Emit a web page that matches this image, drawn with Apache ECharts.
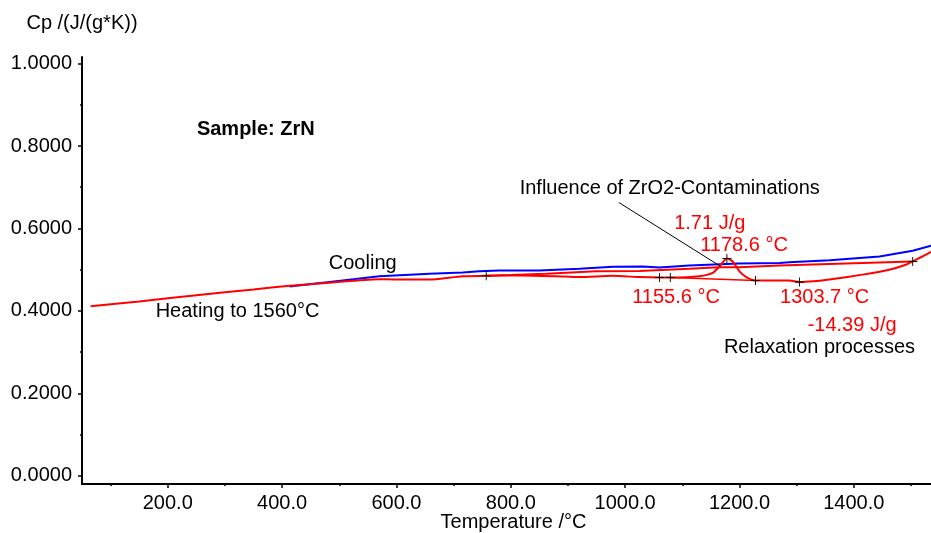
<!DOCTYPE html>
<html>
<head>
<meta charset="utf-8">
<script src="https://cdn.jsdelivr.net/npm/echarts@6/dist/echarts.min.js"></script>
<style>
  html, body { margin: 0; padding: 0; background: #fff; }
  #chart { width: 931px; height: 533px; }
</style>
</head>
<body>
<div id="chart"></div>
<script>
// heating run (red), temperature in °C, Cp in J/(g*K)
const heatT = [65, 150, 250, 350, 413, 453, 512, 570, 600, 628, 669, 716, 757, 780, 820, 880, 920, 978, 1025, 1060, 1079, 1130, 1153, 1165, 1178, 1188, 1200, 1212, 1228, 1260, 1287, 1305, 1330, 1357, 1415, 1462, 1491, 1503, 1520, 1535];
const heatCp = [0.411, 0.423, 0.438, 0.452, 0.461, 0.465, 0.472, 0.477, 0.476, 0.476, 0.477, 0.484, 0.485, 0.486, 0.486, 0.484, 0.482, 0.485, 0.482, 0.481, 0.481, 0.484, 0.492, 0.508, 0.527, 0.520, 0.496, 0.482, 0.474, 0.474, 0.474, 0.470, 0.472, 0.476, 0.488, 0.500, 0.512, 0.520, 0.532, 0.543];

// cooling run (blue)
const coolT = [413, 483, 570, 658, 716, 745, 780, 850, 920, 979, 1031, 1060, 1112, 1199, 1270, 1287, 1358, 1445, 1503, 1535];
const coolCp = [0.459, 0.470, 0.484, 0.490, 0.493, 0.496, 0.498, 0.498, 0.502, 0.507, 0.508, 0.505, 0.510, 0.515, 0.516, 0.518, 0.523, 0.532, 0.546, 0.558];

// evaluation baselines (red)
const relaxBaseT = [757, 800, 862, 949, 1025, 1112, 1164, 1199, 1270, 1386, 1503];
const relaxBaseCp = [0.485, 0.487, 0.490, 0.496, 0.497, 0.502, 0.506, 0.506, 0.510, 0.515, 0.520];
const peakBaseT = [1079, 1228];
const peakBaseCp = [0.481, 0.474];

// evaluation limit markers (+)
const markT = [757, 1060, 1079, 1178, 1228, 1305, 1503];
const markCp = [0.485, 0.481, 0.481, 0.527, 0.474, 0.470, 0.520];

// leader line for the ZrO2 remark
const leaderT = [989, 1167];
const leaderCp = [0.663, 0.508];

// text notes anchored in data coordinates (text centre)
const blackNotes = ['Cooling', 'Heating to 1560°C', 'Influence of ZrO2-Contaminations', 'Relaxation processes'];
const blackNoteT = [541, 322, 1078, 1340];
const blackNoteCp = [0.515, 0.399, 0.696, 0.311];

const redNotes = ['1.71 J/g', '1178.6 °C', '1155.6 °C', '1303.7 °C', '-14.39 J/g'];
const redNoteT = [1148, 1208, 1089, 1349, 1397];
const redNoteCp = [0.613, 0.558, 0.433, 0.433, 0.365];

const sampleNote = 'Sample: ZrN';
const sampleT = 354;
const sampleCp = 0.840;

// axes
const xLabels = [200, 400, 600, 800, 1000, 1200, 1400];
const xMinor = [100, 300, 500, 700, 900, 1100, 1300, 1500];
const yLabels = [0, 0.2, 0.4, 0.6, 0.8, 1.0];
const yMinor = [0.1, 0.3, 0.5, 0.7, 0.9];

const FONT = 'Liberation Sans, Arial, sans-serif';
const zip = (a, b) => a.map((v, i) => [v, b[i]]);

const chart = echarts.init(document.getElementById('chart'));

const gridBox = { left: 82, right: 0, top: 57, bottom: 49, containLabel: false, outerBoundsMode: 'none' };
const xRange = { min: 50, max: 1535 };
const yRange = { min: -0.02, max: 1.016 };

const noteSeries = (texts, ts, cps, color, weight) => ({
  type: 'scatter',
  silent: true,
  symbolSize: 1,
  itemStyle: { color: 'rgba(0,0,0,0)', opacity: 1 },
  label: {
    show: true,
    position: 'inside',
    formatter: p => p.value[2],
    color: color,
    fontFamily: FONT,
    fontSize: 20,
    fontWeight: weight
  },
  data: texts.map((t, i) => [ts[i], cps[i], t]),
  z: 10
});

const option = {
  animation: false,
  backgroundColor: '#fff',
  grid: [gridBox, gridBox],
  xAxis: [
    {
      type: 'value',
      gridIndex: 0,
      ...xRange,
      name: 'Temperature /°C',
      nameLocation: 'middle',
      nameGap: 28,
      nameMoveOverlap: false,
      nameTextStyle: { color: '#000', fontFamily: FONT, fontSize: 20, padding: [0, 0, 0, 14] },
      axisLine: { show: true, onZero: false, lineStyle: { color: '#000', width: 2 } },
      axisTick: { show: true, inside: false, length: 4, customValues: xLabels, lineStyle: { color: '#000', width: 1.5 } },
      axisLabel: { show: true, customValues: xLabels, margin: 9, color: '#000', fontFamily: FONT, fontSize: 20, formatter: v => v.toFixed(1) },
      splitLine: { show: false }
    },
    {
      type: 'value',
      gridIndex: 1,
      ...xRange,
      axisLine: { show: false, onZero: false },
      axisTick: { show: true, inside: false, length: 2, customValues: xMinor, lineStyle: { color: '#000', width: 1.5 } },
      axisLabel: { show: false },
      splitLine: { show: false }
    }
  ],
  yAxis: [
    {
      type: 'value',
      gridIndex: 0,
      ...yRange,
      name: 'Cp /(J/(g*K))',
      nameLocation: 'end',
      nameGap: 24,
      nameTextStyle: { color: '#000', fontFamily: FONT, fontSize: 20 },
      axisLine: { show: true, onZero: false, lineStyle: { color: '#000', width: 2 } },
      axisTick: { show: true, inside: false, length: 4, customValues: yLabels, lineStyle: { color: '#000', width: 1.5 } },
      axisLabel: { show: true, customValues: yLabels, margin: 10, color: '#000', fontFamily: FONT, fontSize: 20, formatter: v => v.toFixed(4) },
      splitLine: { show: false }
    },
    {
      type: 'value',
      gridIndex: 1,
      ...yRange,
      axisLine: { show: false, onZero: false },
      axisTick: { show: true, inside: false, length: 2, customValues: yMinor, lineStyle: { color: '#000', width: 1.5 } },
      axisLabel: { show: false },
      splitLine: { show: false }
    }
  ],
  series: [
    {
      name: 'Cooling',
      type: 'line',
      data: zip(coolT, coolCp),
      showSymbol: false,
      lineStyle: { color: '#0000ff', width: 2 },
      z: 3
    },
    {
      name: 'Relaxation baseline',
      type: 'line',
      data: zip(relaxBaseT, relaxBaseCp),
      showSymbol: false,
      lineStyle: { color: '#ff0000', width: 2 },
      z: 4
    },
    {
      name: 'Peak baseline',
      type: 'line',
      data: zip(peakBaseT, peakBaseCp),
      showSymbol: false,
      lineStyle: { color: '#ff0000', width: 1.5 },
      z: 4
    },
    {
      name: 'Heating',
      type: 'line',
      data: zip(heatT, heatCp),
      showSymbol: false,
      smooth: 0.2,
      lineStyle: { color: '#ff0000', width: 2 },
      z: 5
    },
    {
      name: 'Leader',
      type: 'line',
      data: zip(leaderT, leaderCp),
      showSymbol: false,
      lineStyle: { color: '#000', width: 1 },
      z: 6
    },
    {
      name: 'Limits',
      type: 'scatter',
      data: zip(markT, markCp),
      symbol: 'path://M4.5,0h1v4.5h4.5v1h-4.5v4.5h-1v-4.5h-4.5v-1h4.5z',
      symbolSize: 9,
      itemStyle: { color: '#000', opacity: 1 },
      z: 7
    },
    noteSeries(blackNotes, blackNoteT, blackNoteCp, '#000', 'normal'),
    noteSeries(redNotes, redNoteT, redNoteCp, '#ff0000', 'normal'),
    noteSeries([sampleNote], [sampleT], [sampleCp], '#000', 'bold')
  ]
};

chart.setOption(option);
</script>
</body>
</html>
